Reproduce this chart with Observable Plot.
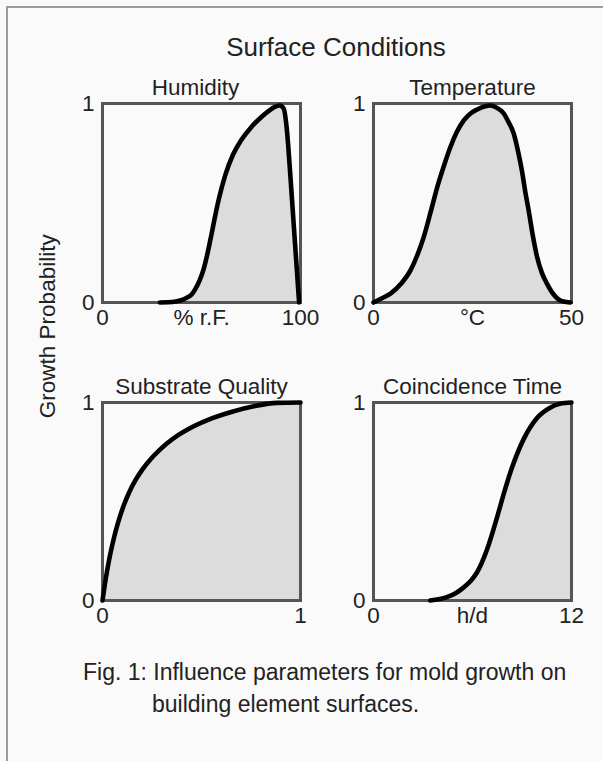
<!DOCTYPE html>
<html>
<head>
<meta charset="utf-8">
<script src="https://cdn.jsdelivr.net/npm/d3@7"></script>
<script src="https://cdn.jsdelivr.net/npm/@observablehq/plot@0.6"></script>
<style>
  html, body { margin: 0; padding: 0; background: #fafafa; overflow: hidden; }
  #root { position: relative; width: 603px; height: 761px; background: #fafafa;
          font-family: "Liberation Sans", Arial, Helvetica, sans-serif; color: #222; overflow: hidden; }
  #border { position: absolute; left: 6px; top: 6px; width: 800px; height: 900px;
            border-left: 2px solid #9c9c9c; border-top: 2px solid #9c9c9c; }
  .txt { position: absolute; white-space: nowrap; }
</style>
</head>
<body>
<div id="root">
  <div id="border"></div>
  <div class="txt" id="title" style="left:136px; width:400px; text-align:center; top:34px; font-size:26px; line-height:26px;">Surface Conditions</div>
  <div class="txt" id="ylabel" style="left:-77px; width:250px; text-align:center; top:315px; font-size:22.5px; line-height:22.5px; transform:rotate(-90deg);">Growth Probability</div>
  <div class="txt" style="left:83px; top:660.5px; font-size:23px; line-height:23px;">Fig. 1: Influence parameters for mold growth on</div>
  <div class="txt" style="left:152px; top:692.5px; font-size:23px; line-height:23px;">building element surfaces.</div>
</div>
<script>
// ---- data ----
const panelTitles = ["Humidity", "Temperature", "Substrate Quality", "Coincidence Time"];

const humidityX = [29, 33, 37, 41, 43, 45, 47, 49, 51, 53, 55, 57, 59, 62, 66, 70, 75, 80, 84, 87, 89.5, 91.5, 93, 95, 97, 99.3];
const humidityY = [0, 0.001, 0.005, 0.016, 0.026, 0.04, 0.07, 0.11, 0.165, 0.245, 0.34, 0.44, 0.53, 0.64, 0.745, 0.815, 0.88, 0.93, 0.963, 0.983, 0.99, 0.975, 0.88, 0.62, 0.33, 0];

const temperatureX = [0, 2, 4.3, 7, 9.3, 11, 12.7, 14.5, 16.1, 18, 19.4, 21, 22.8, 24.5, 26.2, 28, 29.5, 31, 32.9, 34, 35.4, 36.5, 37.5, 38.3, 39.2, 40.2, 41.3, 42.5, 43.8, 45.5, 47.2, 49.7];
const temperatureY = [0, 0.02, 0.045, 0.095, 0.16, 0.235, 0.33, 0.46, 0.58, 0.70, 0.78, 0.855, 0.915, 0.95, 0.97, 0.985, 0.99, 0.98, 0.95, 0.91, 0.85, 0.76, 0.66, 0.56, 0.46, 0.34, 0.23, 0.15, 0.095, 0.04, 0.01, 0];

const substrateX = [0, 0.012, 0.025, 0.04, 0.058, 0.08, 0.109, 0.135, 0.168, 0.2, 0.244, 0.285, 0.328, 0.38, 0.43, 0.53, 0.65, 0.77, 0.88, 1];
const substrateY = [0, 0.082, 0.16, 0.238, 0.317, 0.398, 0.485, 0.547, 0.61, 0.66, 0.715, 0.757, 0.795, 0.834, 0.864, 0.911, 0.952, 0.982, 0.998, 1];

const coincidenceX = [3.43, 4.44, 5.0, 5.45, 5.9, 6.26, 6.87, 7.47, 7.88, 8.39, 9.1, 9.91, 10.7, 11.3, 12];
const coincidenceY = [0, 0.017, 0.038, 0.065, 0.1, 0.14, 0.255, 0.415, 0.535, 0.67, 0.815, 0.922, 0.974, 0.994, 1];

const humidityTicks = [0, 50, 100];      const humidityTickLabels = ["0", "% r.F.", "100"];
const temperatureTicks = [0, 25, 50];    const temperatureTickLabels = ["0", "°C", "50"];
const substrateTicks = [0, 1];           const substrateTickLabels = ["0", "1"];
const coincidenceTicks = [0, 6, 12];     const coincidenceTickLabels = ["0", "h/d", "12"];
const yTicks = [0, 1];                   const yTickLabels = ["0", "1"];

// ---- drawing ----
const FONT = '"Liberation Sans", Arial, Helvetica, sans-serif';
const root = document.getElementById("root");

function panel({title, titleDx = 0, xs, ys, domain, ticks, labels, left, top, w, h}) {
  const data = xs.map((x, i) => ({x, y: ys[i]}));
  const xMap = new Map(ticks.map((t, i) => [t, labels[i]]));
  const yMap = new Map(yTicks.map((t, i) => [t, yTickLabels[i]]));
  const mL = 40, mR = 40, mT = 45, mB = 40;
  const svg = Plot.plot({
    width: mL + w + mR, height: mT + h + mB,
    marginLeft: mL, marginRight: mR, marginTop: mT, marginBottom: mB,
    style: {background: "transparent", fontFamily: FONT, fontSize: "22.5px", color: "#222", overflow: "visible"},
    x: {domain, ticks, tickFormat: d => xMap.get(d), tickSize: 0, tickPadding: 7, label: null},
    y: {domain: [0, 1], ticks: yTicks, tickFormat: d => yMap.get(d), tickSize: 0, tickPadding: 8, label: null},
    marks: [
      Plot.areaY(data, {x: "x", y: "y", fill: "#dcdcdc", curve: "monotone-x"}),
      Plot.frame({stroke: "#555", strokeWidth: 3}),
      Plot.lineY(data, {x: "x", y: "y", stroke: "#000", strokeWidth: 4.6, curve: "monotone-x"}),
      Plot.text([title], {frameAnchor: "top", dy: -9, dx: titleDx, lineAnchor: "bottom", text: d => d, fontSize: 22.5, fill: "#222"})
    ]
  });
  svg.style.position = "absolute";
  svg.style.left = (left - mL) + "px";
  svg.style.top = (top - mT) + "px";
  root.appendChild(svg);
}

panel({title: panelTitles[0], titleDx: -6, xs: humidityX, ys: humidityY, domain: [0, 100], ticks: humidityTicks, labels: humidityTickLabels, left: 102, top: 103, w: 198, h: 199});
panel({title: panelTitles[1], xs: temperatureX, ys: temperatureY, domain: [0, 50], ticks: temperatureTicks, labels: temperatureTickLabels, left: 373, top: 103, w: 198, h: 199});
panel({title: panelTitles[2], xs: substrateX, ys: substrateY, domain: [0, 1], ticks: substrateTicks, labels: substrateTickLabels, left: 102, top: 402, w: 198, h: 198});
panel({title: panelTitles[3], xs: coincidenceX, ys: coincidenceY, domain: [0, 12], ticks: coincidenceTicks, labels: coincidenceTickLabels, left: 373, top: 402, w: 198, h: 198});
</script>
</body>
</html>
